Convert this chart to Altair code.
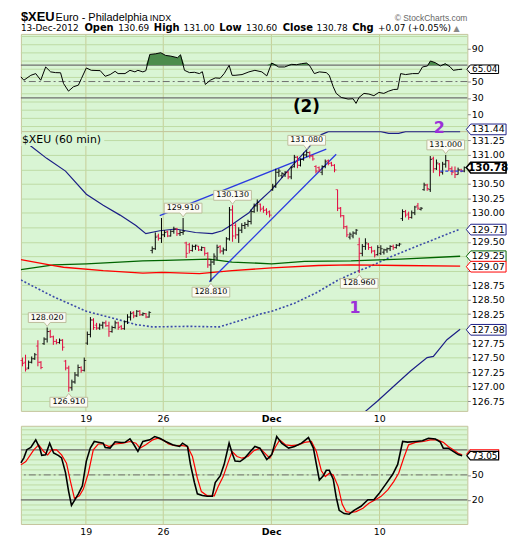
import altair as alt
import pandas as pd

FONT = "DejaVu Sans"
BG = "#d9f5d4"
HGRID = "#bddba4"
VGRID = "#c6cd98"
NAVY = "#1c1f86"

# ---------------- calendar (hourly bars, 7 per session, Nov 23 half day) ----------------
day_names = ["Nov 14", "Nov 15", "Nov 16", "Nov 19", "Nov 20", "Nov 21", "Nov 23", "Nov 26",
             "Nov 27", "Nov 28", "Nov 29", "Nov 30", "Dec 3", "Dec 4", "Dec 5", "Dec 6",
             "Dec 7", "Dec 10", "Dec 11", "Dec 12", "Dec 13"]
bars_in_day = [7, 7, 7, 7, 7, 7, 4, 7, 7, 7, 7, 7, 7, 7, 7, 7, 7, 7, 7, 7, 7]
x_tick_hours = [21, 46, 81, 116]
x_tick_labels = ["19", "26", "Dec", "10"]

# ---------------- OHLC ----------------
opens = [
    127.45, 127.42, 127.32, 127.42, 127.48, 127.70, 127.42,
    127.74, 127.82, 127.95, 127.86, 127.78, 127.76, 127.80,
    127.44, 127.32, 126.98, 127.08, 127.20, 127.33, 127.28,
    127.75, 127.90, 128.15, 128.06, 128.01, 128.06, 128.10,
    128.05, 127.95, 128.02, 128.10, 128.04, 128.00, 128.12,
    128.20, 128.28, 128.22, 128.30, 128.24, 128.26, 128.20,
    129.35, 129.38, 129.60, 129.56,
    129.62, 129.68, 129.60, 129.68, 129.72, 129.64, 129.66,
    129.48, 129.45, 129.35, 129.42, 129.42, 129.36, 129.40,
    129.30, 129.10, 129.15, 129.22, 129.42, 129.34, 129.36,
    129.55, 130.05, 129.78, 129.62, 129.70, 129.78, 129.80,
    129.85, 130.02, 130.12, 130.15, 130.08, 130.05, 130.02,
    130.40, 130.46, 130.70, 130.64, 130.66, 130.70, 130.62,
    130.80, 130.96, 130.82, 130.92, 131.00, 131.04, 130.98,
    130.80, 130.78, 130.70, 130.80, 130.90, 130.86, 130.82,
    130.40, 130.08, 129.95, 129.76, 129.58, 129.60, 129.65,
    129.45, 129.30, 129.42, 129.46, 129.40, 129.34, 129.28,
    129.30, 129.32, 129.36, 129.38, 129.42, 129.40, 129.44,
    129.90, 130.02, 129.98, 129.92, 130.00, 130.12, 130.06,
    130.40, 130.48, 130.40, 130.94, 130.76, 130.84, 130.70,
    130.84, 130.90, 130.76, 130.72, 130.66, 130.74, 130.72,
]
highs = [
    127.50, 127.55, 127.45, 127.52, 127.58, 127.80, 127.44,
    127.85, 128.02, 127.98, 127.88, 127.82, 127.83, 127.82,
    127.46, 127.36, 127.12, 127.25, 127.38, 127.35, 127.50,
    127.95, 128.20, 128.18, 128.10, 128.09, 128.12, 128.14,
    128.12, 128.05, 128.14, 128.12, 128.06, 128.14, 128.25,
    128.30, 128.30, 128.32, 128.32, 128.28, 128.27, 128.30,
    129.42, 129.66, 129.64, 129.91,
    129.70, 129.69, 129.70, 129.76, 129.74, 129.70, 129.91,
    129.50, 129.48, 129.45, 129.45, 129.43, 129.42, 129.41,
    129.32, 129.20, 129.30, 129.45, 129.44, 129.40, 129.58,
    130.10, 130.13, 129.82, 129.75, 129.82, 129.84, 129.88,
    130.06, 130.16, 130.23, 130.16, 130.12, 130.08, 130.04,
    130.50, 130.76, 130.76, 130.70, 130.72, 130.72, 130.80,
    131.00, 130.98, 130.94, 131.04, 131.08, 131.06, 131.00,
    130.82, 130.80, 130.82, 130.92, 130.92, 130.88, 130.84,
    130.40, 130.10, 129.96, 129.78, 129.66, 129.68, 129.72,
    129.57, 129.46, 129.56, 129.48, 129.42, 129.36, 129.44,
    129.44, 129.38, 129.40, 129.44, 129.45, 129.46, 129.48,
    130.06, 130.05, 130.02, 130.04, 130.12, 130.17, 130.10,
    130.52, 130.50, 130.98, 130.97, 130.92, 130.86, 130.88,
    131.00, 130.91, 130.80, 130.80, 130.78, 130.76, 130.80,
]
lows = [
    127.35, 127.26, 127.30, 127.40, 127.46, 127.35, 127.30,
    127.72, 127.76, 127.84, 127.72, 127.73, 127.74, 127.62,
    127.28, 126.91, 126.93, 127.05, 127.17, 127.24, 127.26,
    127.72, 127.85, 127.98, 127.98, 127.98, 128.00, 128.03,
    127.86, 127.93, 128.00, 127.98, 127.98, 127.98, 128.08,
    128.14, 128.18, 128.20, 128.22, 128.22, 128.18, 128.19,
    129.30, 129.36, 129.52, 129.48,
    129.58, 129.58, 129.59, 129.64, 129.60, 129.60, 129.62,
    129.22, 129.30, 129.33, 129.36, 129.34, 129.34, 129.26,
    129.05, 128.81, 129.10, 129.18, 129.30, 129.28, 129.34,
    129.52, 129.50, 129.55, 129.48, 129.65, 129.72, 129.76,
    129.80, 130.00, 130.02, 130.02, 130.00, 129.96, 129.92,
    130.38, 130.43, 130.62, 130.60, 130.62, 130.58, 130.58,
    130.78, 130.77, 130.80, 130.90, 130.96, 130.94, 130.90,
    130.68, 130.70, 130.65, 130.77, 130.82, 130.80, 130.70,
    130.03, 129.92, 129.72, 129.58, 129.54, 129.56, 129.62,
    128.96, 129.25, 129.36, 129.36, 129.30, 129.23, 129.26,
    129.27, 129.28, 129.31, 129.34, 129.36, 129.38, 129.42,
    129.86, 129.92, 129.88, 129.90, 129.96, 130.05, 130.04,
    130.38, 130.38, 130.36, 130.69, 130.74, 130.63, 130.66,
    130.78, 130.72, 130.65, 130.60, 130.66, 130.70, 130.70,
]
closes = [
    127.40, 127.30, 127.42, 127.48, 127.55, 127.42, 127.33,
    127.82, 127.95, 127.86, 127.78, 127.76, 127.80, 127.68,
    127.32, 126.98, 127.08, 127.20, 127.33, 127.28, 127.45,
    127.90, 128.15, 128.02, 128.01, 128.06, 128.10, 128.05,
    127.95, 128.02, 128.10, 128.02, 128.00, 128.12, 128.20,
    128.26, 128.22, 128.30, 128.24, 128.26, 128.20, 128.28,
    129.38, 129.58, 129.56, 129.62,
    129.66, 129.60, 129.68, 129.72, 129.64, 129.66, 129.68,
    129.30, 129.35, 129.42, 129.44, 129.36, 129.40, 129.30,
    129.10, 129.15, 129.25, 129.40, 129.34, 129.36, 129.55,
    130.05, 129.60, 129.62, 129.70, 129.78, 129.80, 129.85,
    130.02, 130.12, 130.18, 130.06, 130.04, 130.00, 129.96,
    130.46, 130.70, 130.72, 130.68, 130.70, 130.62, 130.78,
    130.96, 130.82, 130.92, 131.00, 131.04, 130.98, 130.93,
    130.72, 130.74, 130.80, 130.88, 130.85, 130.82, 130.74,
    130.08, 129.95, 129.76, 129.62, 129.63, 129.65, 129.70,
    129.30, 129.42, 129.48, 129.40, 129.34, 129.27, 129.40,
    129.38, 129.36, 129.38, 129.42, 129.40, 129.44, 129.46,
    130.02, 129.96, 129.92, 130.00, 130.10, 130.08, 130.08,
    130.48, 130.42, 130.92, 130.76, 130.86, 130.70, 130.84,
    130.90, 130.76, 130.70, 130.66, 130.74, 130.72, 130.78,
]

# price call-outs: text, bar index (hour slot), high/low
label_text = ["128.020", "126.910", "129.910", "128.810", "130.130", "131.080", "128.960", "131.000"]
label_bar = [8, 15, 52, 61, 68, 92, 109, 137]
label_kind = ["high", "low", "high", "low", "high", "high", "low", "high"]

# overlays (hour, price)
upper_hour = [2.57, 8.34, 14.44, 21.18, 26.64, 32.09, 37.23, 40.44, 44.93, 50.06, 56.48, 61.94, 65.15,
              68.36, 71.57, 73.81, 75.74, 81.19, 87.61, 89.86, 94.03, 97.24, 99.49, 116.5, 119.06,
              122.27, 124.52, 142.17]
upper_val = [131.18, 130.94, 130.72, 130.32, 130.13, 129.96, 129.78, 129.64, 129.69, 129.72, 129.66,
             129.64, 129.69, 129.80, 129.92, 130.00, 130.13, 130.40, 130.80, 130.93, 131.18, 131.35,
             131.40, 131.40, 131.37, 131.37, 131.40, 131.40]
mid_hour = [0, 10.59, 21.18, 29.85, 37.23, 42.68, 54.56, 64.18, 71.57, 77.98, 81.19, 88.58, 95.64,
            102.7, 108.47, 113.29, 119.7, 126.12, 134.15, 142.17]
mid_val = [128.84, 128.55, 128.30, 128.18, 128.07, 128.03, 128.04, 128.03, 128.15, 128.26, 128.30,
           128.44, 128.62, 128.84, 128.98, 129.08, 129.24, 129.38, 129.55, 129.72]
lower_hour = [110.08, 111.68, 115.44, 120.76, 126.12, 131.48, 133.5, 137.9, 142.17]
lower_val = [126.50, 126.58, 126.75, 127.01, 127.27, 127.50, 127.52, 127.81, 127.99]
green_hour = [0, 10.59, 21.18, 39.47, 46.85, 60.98, 68.36, 81.19, 91.78, 106.87, 122.91, 142.17]
green_val = [129.02, 129.10, 129.12, 129.17, 129.18, 129.20, 129.15, 129.12, 129.16, 129.17, 129.20, 129.25]
red_hour = [0, 10.59, 13.8, 26.64, 39.47, 45.89, 57.77, 68.36, 81.19, 96.28, 106.87, 122.91, 142.17]
red_val = [129.19, 129.09, 129.06, 129.00, 128.96, 128.97, 128.95, 129.00, 129.05, 129.09, 129.10,
           129.09, 129.08]
channel_seg = ["a", "a", "b", "b"]
channel_hour = [44.93, 98.84, 60.98, 102.05]
channel_val = [129.95, 131.10, 128.81, 131.01]
last_hour = [135.75, 143.77]
last_val = [130.72, 130.72]

ann_text = ["(2)", "2", "1"]
ann_hour = [92.43, 135.43, 108.15]
ann_price = [131.83, 131.47, 128.36]
ann_color = ["#000000", "#9b30d9", "#9b30d9"]

tag_value = [131.44, 130.78, 129.71, 129.25, 129.07, 127.98]
tag_text = ["131.44", "130.78", "129.71", "129.25", "129.07", "127.98"]
tag_stroke = [NAVY, "#000000", NAVY, "#006400", "#ff0000", NAVY]
tag_bold = [False, True, False, False, False, False]
# axis labels that sit behind the value tags
hidden_price_labels = [130.75, 129.75, 129.0, 128.0]

# RSI(14)
rsi_hour = [0, 0.96, 3.21, 4.81, 6.42, 8.02, 9.63, 11.23, 12.84, 13.8,
            15.4, 17.01, 18.61, 19.58, 21.18, 22.79, 25.67, 27.28, 28.88, 30.49,
            31.45, 33.7, 35.3, 36.91, 37.87, 39.47, 40.44, 41.72, 43.65, 45.25,
            46.85, 48.46, 50.71, 51.67, 52.95, 54.56, 56.16, 57.77, 58.73, 59.69,
            61.3, 62.9, 64.5, 65.79, 67.39, 68.36, 69.32, 71.57, 73.81, 75.74,
            77.98, 79.59, 81.19, 83.44, 85.37, 87.61, 89.22, 90.82, 92.43, 93.39,
            94.99, 96.6, 98.84, 99.81, 101.09, 102.05, 103.66, 105.9, 107.51, 108.47,
            109.44, 111.04, 112.64, 114.25, 115.85, 117.46, 119.06, 120.67, 121.95, 122.91,
            124.52, 126.77, 128.69, 129.97, 131.58, 132.54, 134.15, 135.75, 137.36, 138.96,
            139.92, 141.53, 142.81]
rsi_value = [55.7, 51.6, 57.6, 59.7, 51.6, 67.8, 61.8, 60.9, 60.7, 47.6,
             38.3, 43.6, 45.6, 53.6, 66.6, 63.7, 63.3, 56.4, 58.5, 62.5,
             59.7, 59.7, 63.7, 61.8, 63.7, 61.8, 63.2, 83.1, 83.9, 85.2,
             81.9, 81.1, 79.1, 82.7, 63.7, 60.9, 61.3, 59.7, 62.0, 46.4,
             51.6, 54.4, 54.0, 59.7, 69.8, 57.6, 57.6, 58.5, 61.8, 63.7,
             61.8, 56.9, 72.6, 67.8, 67.8, 71.0, 70.6, 71.8, 72.6, 69.8,
             59.7, 61.8, 60.9, 57.6, 43.6, 35.5, 30.6, 28.6, 29.0, 23.3,
             30.6, 35.5, 34.7, 32.7, 36.7, 35.5, 38.3, 40.3, 40.5, 59.7,
             58.5, 59.7, 59.7, 67.8, 69.0, 75.1, 73.0, 69.0, 71.8, 67.8,
             63.7, 64.6, 65.04]

# Slow stochastic %K and %D
k_hour = [0, 0.96, 1.93, 3.21, 4.81, 6.1, 6.74, 8.02, 9.31, 10.59,
          12.2, 13.16, 14.44, 15.4, 16.37, 17.65, 18.61, 19.9, 21.18, 22.46,
          23.75, 25.03, 26.64, 27.28, 28.88, 30.49, 32.41, 33.7, 35.3, 36.59,
          37.87, 39.47, 41.72, 43.32, 44.93, 46.85, 49.1, 51.35, 52.31, 53.92,
          54.88, 56.16, 57.12, 58.73, 60.33, 61.94, 62.9, 64.5, 65.79, 67.39,
          68.36, 69.32, 70.92, 72.53, 74.13, 75.74, 77.34, 79.59, 81.19, 82.8,
          84.4, 86.65, 88.58, 90.82, 93.07, 94.67, 95.64, 96.6, 97.88, 98.84,
          99.81, 101.09, 102.05, 103.02, 104.62, 106.23, 107.83, 110.08, 112.32, 114.25,
          115.85, 118.1, 120.35, 121.95, 123.56, 125.16, 127.73, 129.97, 131.9, 134.15,
          135.75, 136.71, 138.32, 139.92, 141.53, 142.81]
k_value = [64.5, 70.4, 80.2, 82.9, 92, 82.1, 73.5, 74, 88, 76.2,
           73.1, 70.4, 52.7, 31.2, 13.5, 21.4, 27.3, 37, 66.5, 82.1,
           90, 89.2, 88, 82.9, 82.1, 89.6, 88.8, 89, 93.1, 86.1,
           78.2, 90, 92, 95.9, 93.9, 90, 86.1, 84.1, 88, 84.1,
           62.6, 40.9, 27.3, 25.3, 24.5, 24.5, 40.9, 48.8, 62.6, 88,
           76.2, 66.5, 66, 70.4, 77.4, 84.1, 82, 68.4, 74.3, 95.9,
           88, 82.1, 84.1, 88, 94.7, 82.1, 62.6, 43.7, 48.8, 55.5,
           55.5, 44.9, 23.3, 7.6, 3.7, 2.9, 7.6, 12.4, 20.2, 20.2,
           27.3, 39, 50.8, 62.6, 90, 89.2, 90, 90.8, 93.9, 93,
           89.2, 82.1, 82, 78.2, 74.3, 73.05]
d_hour = [0, 1.6, 4.17, 5.78, 7.38, 8.66, 9.95, 11.55, 13.16, 14.76,
          16.05, 17.33, 18.93, 20.22, 21.82, 23.43, 25.03, 26.64, 28.56, 30.49,
          33.06, 35.3, 37.23, 38.51, 40.44, 42.68, 44.29, 45.89, 47.82, 49.74,
          52.31, 53.92, 55.52, 57.12, 58.41, 60.33, 62.58, 63.86, 65.47, 67.07,
          68.36, 69.96, 71.57, 73.49, 75.42, 77.34, 78.95, 80.55, 82.48, 83.76,
          85.69, 87.61, 89.86, 91.78, 94.03, 95.64, 97.24, 98.52, 99.81, 101.09,
          102.7, 103.98, 105.26, 106.87, 108.47, 110.72, 112.64, 114.57, 116.5, 118.74,
          120.67, 122.27, 123.88, 125.48, 127.73, 130.29, 132.54, 134.79, 136.71, 138.32,
          139.92, 141.53, 142.81]
d_value = [62, 66, 80, 86, 78, 74, 80, 80, 74, 64,
           42, 22, 25, 33, 52, 80, 87, 87, 84, 87,
           88, 90, 88, 82, 86, 92, 94, 92, 87, 85,
           85, 84, 72, 46, 30, 25, 25, 36, 48, 65,
           78, 72, 70, 72, 79, 82, 76, 70, 84, 92,
           86, 85, 86, 89, 90, 78, 55, 48, 52, 50,
           36, 15, 6, 5, 6, 10, 16, 20, 24, 32,
           42, 52, 70, 86, 89, 90, 92, 92, 89, 84,
           80, 76, 74]

# header
hdr_text = ["$XEU", "Euro - Philadelphia", "INDX", "© StockCharts.com",
            "13-Dec-2012", "Open", "130.69", "High", "131.00", "Low", "130.60",
            "Close", "130.78", "Chg", "+0.07 (+0.05%)", "▲"]
hdr_bold = [True, False, False, False, False, True, False, True, False, True, False,
            True, False, True, False, False]

# ---------------- frames ----------------
n = len(opens)
bars = pd.DataFrame({"hour": [i + 0.5 for i in range(n)], "open": opens, "high": highs,
                     "low": lows, "close": closes})
bars["dir"] = ["down" if c < o else "up" for o, c in zip(opens, closes)]

labels = pd.DataFrame({
    "text": label_text,
    "hour": [label_bar[i] + 0.5 for i in range(len(label_text))],
    "price": [highs[b] if k == "high" else lows[b] for b, k in zip(label_bar, label_kind)],
    "kind": label_kind,
})
one = pd.DataFrame({"k": [0]})

XS = alt.Scale(domain=[0, 144.5], nice=False, zero=False)
PS = alt.Scale(domain=[126.58, 131.41], nice=False, zero=False)
RS = alt.Scale(domain=[-10.6, 108.2], nice=False, zero=False)
SS = alt.Scale(domain=[-8.8, 108.8], nice=False, zero=False)

label_expr = ""
for hv, lt in zip(x_tick_hours[:-1], x_tick_labels[:-1]):
    label_expr += f"datum.value == {hv} ? '{lt}' : "
label_expr += f"'{x_tick_labels[-1]}'"


def hide_expr(hidden, fmt):
    cond = " || ".join(f"abs(datum.value - {h}) < 0.001" for h in hidden)
    return f"({cond}) ? '' : format(datum.value, '{fmt}')"


def x_axis(show):
    return alt.Axis(values=x_tick_hours, grid=True, gridColor=VGRID, ticks=False, domain=False,
                    labels=show, labelExpr=label_expr, labelFont=FONT, labelFontSize=9.5,
                    labelColor="black", labelPadding=3,
                    labelFontWeight={"condition": {"test": "datum.value == 81", "value": "bold"},
                                     "value": "normal"},
                    title=None)


def y_axis(vals, fmt, grid, hidden):
    return alt.Axis(orient="right", values=vals, labelExpr=hide_expr(hidden, fmt), grid=grid,
                    gridColor=HGRID, tickSize=3, tickColor="#8c8c8c", domain=False, labelPadding=1,
                    labelFont=FONT, labelFontSize=9.5, labelColor="black", title=None)


price_ticks = [126.75 + 0.25 * k for k in range(19)]
AX_MAIN_X = x_axis(True)
AX_TOP_X = x_axis(False)
AX_MAIN_Y = y_axis(price_ticks, ".2f", True, hidden_price_labels)
AX_RSI_Y = y_axis([10, 30, 50, 70, 90], "d", False, [70])
AX_STO_Y = y_axis([20, 50, 80], "d", False, [80])


def X(field, axis):
    return alt.X(f"{field}:Q", scale=XS, axis=axis, title=None)


def Y(field, scale, axis):
    return alt.Y(f"{field}:Q", scale=scale, axis=axis, title=None)


def line(hours, vals, scale, axis, xaxis, **kw):
    df = pd.DataFrame({"hour": hours, "v": vals})
    return alt.Chart(df).mark_line(clip=True, **kw).encode(x=X("hour", xaxis), y=Y("v", scale, axis))


TAG_PATH = "M-1,0L-0.78,-0.27L1,-0.27L1,0.27L-0.78,0.27Z"
HI_BOX = "M-1,-0.26L1,-0.26L1,0.26L0.16,0.26L0,0.47L-0.16,0.26L-1,0.26Z"
LO_BOX = "M-1,0.26L1,0.26L1,-0.26L0.16,-0.26L0,-0.47L-0.16,-0.26L-1,-0.26Z"

# ---------------- main price panel ----------------
mx = lambda f: X(f, AX_MAIN_X)
my = lambda f: Y(f, PS, AX_MAIN_Y)
bar_color = alt.Color("dir:N", scale=alt.Scale(domain=["up", "down"], range=["#000000", "#e3003b"]),
                      legend=None)

main_layers = [
    line(upper_hour, upper_val, PS, AX_MAIN_Y, AX_MAIN_X, color=NAVY, strokeWidth=1.2),
    line(lower_hour, lower_val, PS, AX_MAIN_Y, AX_MAIN_X, color=NAVY, strokeWidth=1.2),
    line(mid_hour, mid_val, PS, AX_MAIN_Y, AX_MAIN_X, color="#3a4aa8", strokeWidth=1.6,
         strokeDash=[2, 2]),
    line(green_hour, green_val, PS, AX_MAIN_Y, AX_MAIN_X, color="#006400", strokeWidth=1.3),
    line(red_hour, red_val, PS, AX_MAIN_Y, AX_MAIN_X, color="#ff0000", strokeWidth=1.3),
    alt.Chart(pd.DataFrame({"seg": channel_seg, "hour": channel_hour, "v": channel_val}))
    .mark_line(color="#2b3be0", strokeWidth=1.3)
    .encode(x=mx("hour"), y=my("v"), detail="seg:N"),
    alt.Chart(bars).mark_rule(strokeWidth=1).encode(x=mx("hour"), y=my("low"), y2="high:Q",
                                                     color=bar_color),
    alt.Chart(bars).mark_tick(orient="horizontal", size=2, thickness=1, xOffset=-1)
    .encode(x=mx("hour"), y=my("open"), color=bar_color),
    alt.Chart(bars).mark_tick(orient="horizontal", size=2, thickness=1, xOffset=1)
    .encode(x=mx("hour"), y=my("close"), color=bar_color),
    line(last_hour, last_val, PS, AX_MAIN_Y, AX_MAIN_X, color="#2b3be0", strokeWidth=1.2,
         strokeDash=[3, 2]),
]
for kind, path, off in [("high", HI_BOX, -10), ("low", LO_BOX, 10.5)]:
    sub = labels[labels["kind"] == kind]
    main_layers.append(
        alt.Chart(sub).mark_point(shape=path, size=1444, filled=True, fill="#fbfbf3",
                                  stroke="#bdbd9c", strokeWidth=1, opacity=1, yOffset=off)
        .encode(x=mx("hour"), y=my("price")))
    main_layers.append(
        alt.Chart(sub).mark_text(font=FONT, fontSize=8, baseline="middle", yOffset=off,
                                 color="black")
        .encode(x=mx("hour"), y=my("price"), text="text:N"))

ann = pd.DataFrame({"text": ann_text, "hour": ann_hour, "price": ann_price, "color": ann_color,
                    "size": [17, 16, 16]})
main_layers.append(
    alt.Chart(ann).mark_text(font=FONT, fontWeight="bold", baseline="middle")
    .encode(x=mx("hour"), y=my("price"), text="text:N", color=alt.Color("color:N", scale=None),
            size=alt.Size("size:Q", scale=None)))
main_layers.append(
    alt.Chart(one).mark_rect(color=BG).encode(x=alt.value(0.5), x2=alt.value(84),
                                              y=alt.value(3), y2=alt.value(15)))
main_layers.append(
    alt.Chart(one).mark_text(font=FONT, fontSize=11, align="left", baseline="middle", color="black")
    .encode(x=alt.value(1), y=alt.value(9), text=alt.value("$XEU (60 min)")))

tags = pd.DataFrame({"value": tag_value, "text": tag_text, "stroke": tag_stroke,
                     "sw": [1.6 if b else 1.0 for b in tag_bold], "bold": tag_bold})
main_layers.append(
    alt.Chart(tags).mark_point(shape=TAG_PATH, size=1600, filled=True, fill="white", opacity=1)
    .encode(x=alt.value(469), y=my("value"), stroke=alt.Stroke("stroke:N", scale=None),
            strokeWidth=alt.StrokeWidth("sw:Q", scale=None)))
main_layers.append(
    alt.Chart(tags[~tags["bold"]]).mark_text(font=FONT, fontSize=9.5, baseline="middle",
                                             color="black")
    .encode(x=alt.value(471), y=my("value"), text="text:N"))
main_layers.append(
    alt.Chart(tags[tags["bold"]]).mark_text(font=FONT, fontSize=10.5, fontWeight="bold",
                                            baseline="middle", color="black")
    .encode(x=alt.value(471), y=my("value"), text="text:N"))

main = alt.layer(*main_layers).properties(width=450, height=282)

# ---------------- RSI panel ----------------
rx = lambda f: X(f, AX_TOP_X)
ry = lambda f: Y(f, RS, AX_RSI_Y)
rsi_df = pd.DataFrame({"hour": rsi_hour, "v": rsi_value})
rsi_layers = [
    alt.Chart(pd.DataFrame({"g": [-5 + 10 * k for k in range(12)]})).mark_rule(color=HGRID)
    .encode(y=ry("g")),
    alt.Chart(pd.DataFrame({"g": [30, 70]})).mark_rule(color="#6e6e6e", strokeWidth=1.2)
    .encode(y=ry("g")),
    alt.Chart(pd.DataFrame({"g": [50]})).mark_rule(color="#6e6e6e", strokeDash=[7, 3, 2, 3])
    .encode(y=ry("g")),
    alt.Chart(rsi_df).transform_calculate(hi="max(datum.v, 70)")
    .mark_area(color="#4c8c4c", opacity=1).encode(x=rx("hour"), y=ry("hi"), y2=alt.datum(70)),
    alt.Chart(rsi_df).mark_line(color="black", strokeWidth=1).encode(x=rx("hour"), y=ry("v")),
    alt.Chart(pd.DataFrame({"value": [65.04]})).mark_point(shape=TAG_PATH, size=1024, filled=True,
                                                            fill="white", stroke="black",
                                                            strokeWidth=1, opacity=1)
    .encode(x=alt.value(465.5), y=ry("value")),
    alt.Chart(pd.DataFrame({"value": [65.04], "t": ["65.04"]})).mark_text(
        font=FONT, fontSize=9, baseline="middle", color="black")
    .encode(x=alt.value(467.5), y=ry("value"), text="t:N"),
]
# header text (above the first panel)
hdr_x = [0, 35, 130, 450, 0, 64, 98, 134, 164, 200, 227, 264, 298, 334, 360, 436]
hdr_y = [-13, -13, -13, -13, -2.5, -2.5, -2.5, -2.5, -2.5, -2.5, -2.5, -2.5, -2.5, -2.5, -2.5, -2.5]
hdr_size = [13, 11, 9, 8.5, 9, 10, 9, 10, 9, 10, 9, 10, 9, 10, 9, 8]
hdr_font = ["Liberation Sans", "Liberation Sans", "Liberation Sans", "Liberation Sans"] + [FONT] * 12
hdr_color = ["black", "black", "black", "#666666"] + ["black"] * 11 + ["#888888"]
for i, t in enumerate(hdr_text):
    rsi_layers.append(
        alt.Chart(one).mark_text(font=hdr_font[i], fontSize=hdr_size[i],
                                 fontWeight="bold" if hdr_bold[i] else "normal",
                                 align="right" if i == 3 else "left", baseline="alphabetic",
                                 color=hdr_color[i])
        .encode(x=alt.value(hdr_x[i]), y=alt.value(hdr_y[i]), text=alt.value(t)))

rsi = alt.layer(*rsi_layers).properties(width=450, height=98)

# ---------------- spacer (room for the price panel's date labels) ----------------
spacer = alt.Chart(one).mark_point(opacity=0).encode(
    x=alt.value(0), y=alt.value(0)
).properties(width=450, height=15, view=alt.ViewBackground(fill=None, stroke=None))

# ---------------- stochastic panel ----------------
sx = lambda f: X(f, AX_MAIN_X)
sy = lambda f: Y(f, SS, AX_STO_Y)
sto_layers = [
    alt.Chart(pd.DataFrame({"g": [-4 + 6 * k for k in range(19)]})).mark_rule(color=HGRID)
    .encode(y=sy("g")),
    alt.Chart(pd.DataFrame({"g": [20, 80]})).mark_rule(color="#6e6e6e", strokeWidth=1.2)
    .encode(y=sy("g")),
    alt.Chart(pd.DataFrame({"g": [50]})).mark_rule(color="#6e6e6e", strokeDash=[7, 3, 2, 3])
    .encode(y=sy("g")),
    alt.Chart(pd.DataFrame({"hour": d_hour, "v": d_value})).mark_line(color="#ff0000", strokeWidth=1.2)
    .encode(x=sx("hour"), y=sy("v")),
    alt.Chart(pd.DataFrame({"hour": k_hour, "v": k_value})).mark_line(color="black", strokeWidth=1.6)
    .encode(x=sx("hour"), y=sy("v")),
]
sto_tags = pd.DataFrame({"value": [75.0, 73.05], "stroke": ["#ff0000", "#000000"],
                         "text": ["", "73.05"]})
sto_layers.append(
    alt.Chart(sto_tags).mark_point(shape=TAG_PATH, size=1024, filled=True, fill="white",
                                   strokeWidth=1.2, opacity=1)
    .encode(x=alt.value(465.5), y=sy("value"), stroke=alt.Stroke("stroke:N", scale=None),
            order=alt.Order("value:Q", sort="descending")))
sto_layers.append(
    alt.Chart(sto_tags.iloc[[1]]).mark_text(font=FONT, fontSize=9, baseline="middle", color="black")
    .encode(x=alt.value(467.5), y=sy("value"), text="text:N"))
sto = alt.layer(*sto_layers).properties(width=450, height=99)

chart = alt.vconcat(
    rsi, main, spacer, sto, spacing=0, bounds="flush",
).properties(
    padding={"left": 9, "top": 0, "right": 2, "bottom": 0}, background="white"
).configure_view(
    stroke="#c4c49c", strokeWidth=1, fill=BG
)

chart.save("out.html", embed_options={"renderer": "svg", "actions": False})
